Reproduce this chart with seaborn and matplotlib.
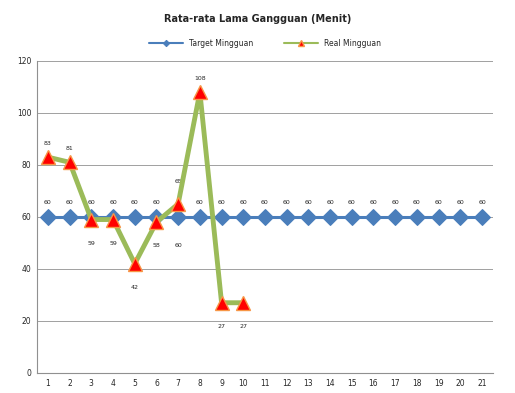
import matplotlib
matplotlib.use("Agg")
import matplotlib.pyplot as plt
import seaborn as sns
import pandas as pd

weeks = list(range(1, 22))
target = [60] * 21
real_weeks = list(range(1, 11))
real = [83, 81, 59, 59, 42, 58, 65, 108, 27, 27]
real_label_pos = ["above", "above", "below", "below", "below", "below", "above", "above", "below", "below"]

sns.set_style("white")
plt.rcParams['font.family'] = ['DejaVu Sans']

fig = plt.figure(figsize=(5.15, 3.93), dpi=100)
ax = fig.add_axes([0.072, 0.051, 0.885, 0.794])

df_t = pd.DataFrame({"week": weeks, "val": target})
df_r = pd.DataFrame({"week": real_weeks, "val": real})

sns.lineplot(data=df_t, x="week", y="val", ax=ax, color="#4a7ebb", linewidth=2.2,
             marker="D", markersize=8, markeredgecolor="#4a7ebb", label="Target Mingguan", zorder=3)
sns.lineplot(data=df_r, x="week", y="val", ax=ax, color="#9bbb59", linewidth=3.5,
             marker="^", markersize=10, markerfacecolor="#ff0000", markeredgecolor="#f79646",
             markeredgewidth=1, label="Real Mingguan", zorder=4)

for w, v in zip(weeks, target):
    if w == 7:
        ax.annotate(str(v), (w, v), xytext=(0, -22), textcoords="offset points", ha="center", fontsize=4.5)
    else:
        ax.annotate(str(v), (w, v), xytext=(0, 9), textcoords="offset points", ha="center", fontsize=4.5)
for w, v, p in zip(real_weeks, real, real_label_pos):
    if p == "above":
        off = 15 if w == 7 else 9
    else:
        off = -18
    ax.annotate(str(v), (w, v), xytext=(0, off), textcoords="offset points", ha="center", fontsize=4.5)

ax.set_xlim(0.5, 21.5)
ax.set_ylim(0, 120)
ax.set_xticks(weeks)
ax.set_xticklabels([str(w) for w in weeks], fontsize=5.5)
ax.set_yticks(range(0, 121, 20))
ax.set_yticklabels([str(v) for v in range(0, 121, 20)], fontsize=5.5)
ax.set_xlabel("")
ax.set_ylabel("")
ax.yaxis.grid(True, color="#a0a0a0", linewidth=0.7)
ax.set_axisbelow(True)
for s in ["top", "right"]:
    ax.spines[s].set_visible(False)
for s in ["left", "bottom"]:
    ax.spines[s].set_color("#909090")
    ax.spines[s].set_linewidth(0.8)
ax.tick_params(axis="both", length=0, pad=4)

leg = ax.legend(loc="lower center", bbox_to_anchor=(0.5, 1.02), ncol=2, frameon=False,
                fontsize=5.5, handlelength=4.5, columnspacing=4, markerscale=0.4)
for h in leg.get_lines():
    h.set_linewidth(1.5)
fig.suptitle("Rata-rata Lama Gangguan (Menit)", y=0.965, fontsize=7, fontweight="bold")

fig.savefig("out.png", dpi=100)
